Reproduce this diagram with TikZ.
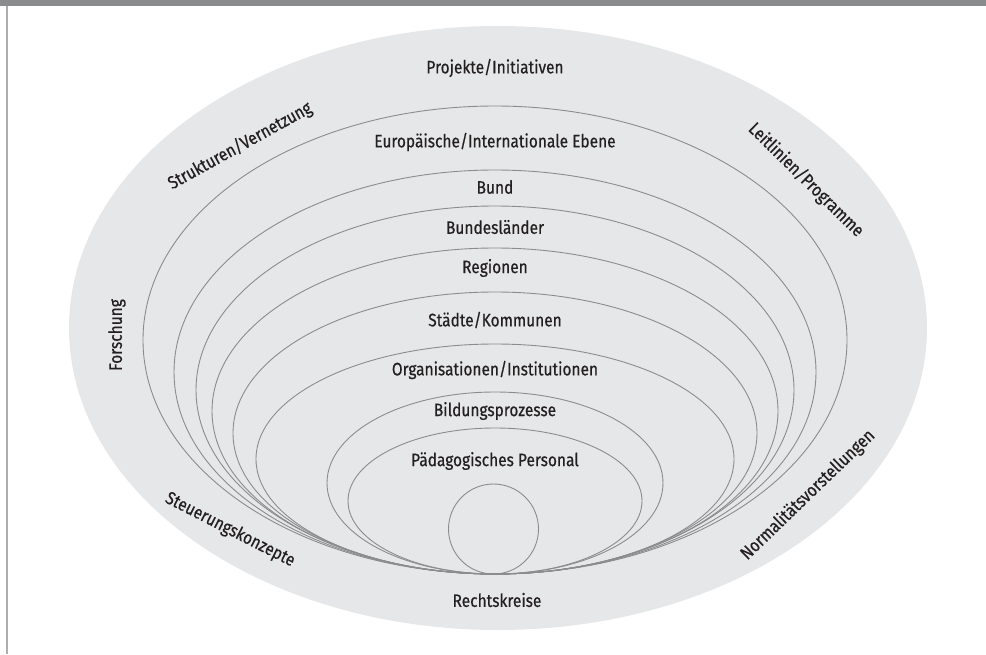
\documentclass[tikz,border=0pt]{standalone}
\usepackage{fontspec}
\setmainfont{Fira Sans}[FakeStretch=0.86, FakeBold=0.5]
\usetikzlibrary{shapes}
\definecolor{bargrey}{HTML}{8A8B8D}
\definecolor{fieldgrey}{HTML}{E6E7E8}
\definecolor{linegrey}{HTML}{8C8C8C}
\definecolor{textgrey}{HTML}{231F20}
\tikzset{
	lbl/.style = {align=center, inner sep=0pt, text=textgrey,
		font=\fontsize{18}{21}\selectfont},% Beschriftung
	ring/.style = {ellipse, draw=linegrey, line width=0.9pt, inner sep=0pt,
		outer sep=0pt, anchor=south},% Ebene
	kern/.style = {circle, draw=linegrey, line width=0.9pt, inner sep=0pt,
		outer sep=0pt, anchor=south, minimum size=90pt}% innerer Kreis
}

\begin{document}
\begin{tikzpicture}[x=1pt,y=-1pt]
	\useasboundingbox (0,0) rectangle (986,654);
	% Rahmen
	\fill[bargrey] (0,0) rectangle (986,6);
	\fill[black!32] (5.5,6) rectangle (7.5,654);
	% Umfeld
	\node[ellipse, fill=fieldgrey, inner sep=0pt, minimum width=858pt,
		minimum height=604pt] (field) at (498,328) {};
	\coordinate (base) at (495,574);
	% Ebenen
	\foreach \w/\h [count=\i] in {704/468, 642/404, 598/368, 566/326,
		524/282, 478/230, 336/182, 294/146}
		\node[ring, minimum width=\w pt, minimum height=\h pt] (ring\i) at (base) {};
	\node[kern] (core) at (493.5,574) {};
	% Beschriftung innen
	\node[lbl] (proj) at (495,68) {Projekte/Initiativen};
	\node[lbl] (eu) at (495,142) {Europäische/Internationale Ebene};
	\node[lbl] (bund) at (495,187) {Bund};
	\node[lbl] (land) at (495,227) {Bundesländer};
	\node[lbl] (reg) at (495,268) {Regionen};
	\node[lbl] (stadt) at (495,320) {Städte/Kommunen};
	\node[lbl] (org) at (495,370) {Organisationen/Institutionen};
	\node[lbl] (bild) at (495,411) {Bildungsprozesse};
	\node[lbl] (paed) at (495,461) {Pädagogisches Personal};
	\node[lbl] (recht) at (497,600) {Rechtskreise};
	% Beschriftung aussen
	\node[lbl, rotate=29] (strukt) at (240,146) {Strukturen/Vernetzung};
	\node[lbl, rotate=-44.5] (leit) at (806,180) {Leitlinien/Programme};
	\node[lbl, rotate=90] (forsch) at (117,335) {Forschung};
	\node[lbl, rotate=-27] (steuer) at (230,530) {Steuerungskonzepte};
	\node[lbl, rotate=44] (norm) at (808,495) {Normalitätsvorstellungen};
\end{tikzpicture}
\end{document}
